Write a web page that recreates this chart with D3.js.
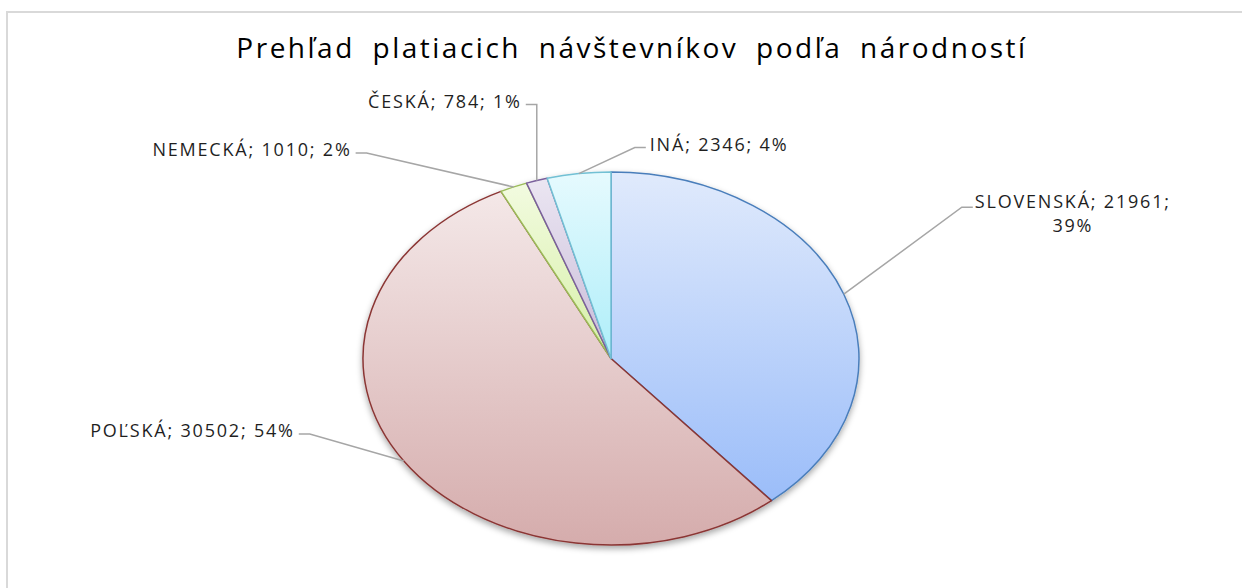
<!DOCTYPE html>
<html>
<head>
<meta charset="utf-8">
<script src="https://cdn.jsdelivr.net/npm/d3@7"></script>
<style>
body { margin: 0; background: #fff; }
</style>
</head>
<body>
<div id="chart"></div>
<script>
const title = "Prehľad platiacich návštevníkov podľa národností";
const categories = ["SLOVENSKÁ", "POĽSKÁ", "NEMECKÁ", "ČESKÁ", "INÁ"];
const visitors = [21961, 30502, 1010, 784, 2346];

const width = 1242, height = 588;
const cx = 611, cy = 358.5, rx = 248, ry = 186.5;

// gradient top/bottom + outline per slice
const fills = [["#e0eafc", "#9bbdf9"], ["#f4e8e8", "#d5acac"], ["#f2fbe0", "#d6efa6"], ["#ebe6f2", "#c8bbd8"], ["#e6fafe", "#aeeef9"]];
const strokes = ["#4a7ebb", "#8b3634", "#9bbb59", "#7a5f9c", "#72c0d4"];
// elbow of each leader, relative to where it touches the pie
const labelLayout = [
  {dx: 118, dy: -87, side: 1, lines: 2},
  {dx: -94, dy: -27, side: -1, lines: 1},
  {dx: -147, dy: -34, side: -1, lines: 1},
  {dx: 0, dy: -76, side: -1, lines: 1},
  {dx: 56, dy: -26, side: 1, lines: 1}
];

const data = categories.map((c, i) => ({name: c, value: visitors[i]}));
const total = d3.sum(visitors);

const svg = d3.select("#chart").append("svg")
  .attr("width", width).attr("height", height);

const defs = svg.append("defs");
fills.forEach((f, i) => {
  const g = defs.append("linearGradient").attr("id", "grad" + i)
    .attr("x1", 0).attr("y1", 0).attr("x2", 0).attr("y2", 1);
  g.append("stop").attr("offset", "0%").attr("stop-color", f[0]);
  g.append("stop").attr("offset", "100%").attr("stop-color", f[1]);
});
const shadow = defs.append("filter").attr("id", "shadow")
  .attr("x", "-10%").attr("y", "-10%").attr("width", "120%").attr("height", "125%");
shadow.append("feDropShadow").attr("dx", 0).attr("dy", 3).attr("stdDeviation", 3)
  .attr("flood-color", "#000").attr("flood-opacity", 0.35);

// chart frame
svg.append("path")
  .attr("d", `M7,${height + 5} V12 H${width + 5}`)
  .attr("fill", "none").attr("stroke", "#d9d9d9").attr("stroke-width", 2);

svg.append("text")
  .attr("x", 632).attr("y", 58)
  .attr("text-anchor", "middle")
  .attr("font-family", "'Open Sans', sans-serif")
  .attr("font-size", 28)
  .attr("letter-spacing", 2.5)
  .attr("word-spacing", 8)
  .attr("fill", "#000")
  .text(title);

const pie = d3.pie().sort(null).value(d => d.value);
const arcs = pie(data);
const arc = d3.arc().innerRadius(0).outerRadius(rx);

const pieG = svg.append("g").attr("filter", "url(#shadow)");
pieG.append("g")
  .attr("transform", `translate(${cx},${cy}) scale(1,${ry / rx})`)
  .selectAll("path")
  .data(arcs)
  .join("path")
  .attr("d", arc)
  .attr("fill", (d, i) => `url(#grad${i})`)
  .attr("stroke", (d, i) => strokes[i])
  .attr("stroke-width", 1.5)
  .attr("vector-effect", "non-scaling-stroke")
  .attr("stroke-linejoin", "round");

// labels with leaders
const labels = svg.append("g");
arcs.forEach((d, i) => {
  const mid = (d.startAngle + d.endAngle) / 2;
  const ax = cx + rx * Math.sin(mid);
  const ay = cy - ry * Math.cos(mid);
  const L = labelLayout[i];
  const ex = ax + L.dx, ey = ay + L.dy;
  const hx = ex + L.side * 11;
  labels.append("polyline")
    .attr("points", [[ax, ay], [ex, ey], [hx, ey]].map(p => p.join(",")).join(" "))
    .attr("fill", "none").attr("stroke", "#a6a6a6").attr("stroke-width", 1.5);

  const pct = Math.round(d.data.value / total * 100) + "%";
  const txt = labels.append("text")
    .attr("font-family", "'Open Sans', sans-serif")
    .attr("font-size", 18)
    .attr("letter-spacing", 1.8)
    .attr("fill", "#1f1f1f");
  if (L.lines === 2) {
    const first = `${d.data.name}; ${d.data.value};`;
    const tx = hx + 2;
    txt.attr("text-anchor", "middle");
    const t1 = txt.append("tspan").attr("y", ey + 1).text(first);
    const w = t1.node().getComputedTextLength();
    t1.attr("x", tx + w / 2);
    txt.append("tspan").attr("x", tx + w / 2).attr("y", ey + 25).text(pct);
  } else {
    txt.attr("x", hx + L.side * 4).attr("y", ey + 3)
      .attr("text-anchor", L.side > 0 ? "start" : "end")
      .text(`${d.data.name}; ${d.data.value}; ${pct}`);
  }
});
</script>
</body>
</html>
